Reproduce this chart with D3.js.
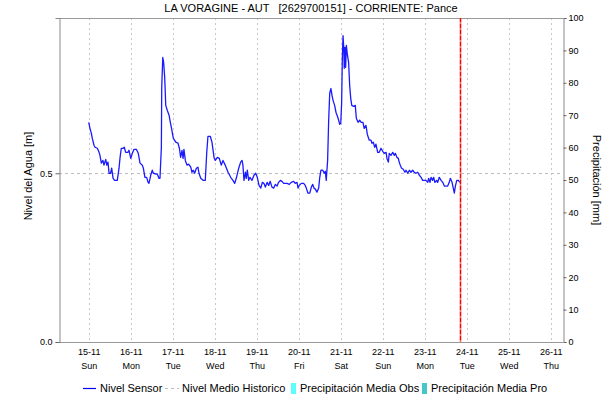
<!DOCTYPE html>
<html>
<head>
<meta charset="utf-8">
<script src="https://cdn.jsdelivr.net/npm/d3@7"></script>
<style>
  html, body { margin: 0; padding: 0; background: #fff; }
  svg { display: block; font-family: "Liberation Sans", Arial, sans-serif; }
</style>
</head>
<body>
<svg id="chart" width="615" height="397"></svg>
<script>
// Station water level readings: [hours since 15-11 00:00, level in metres]
const sensorLevel = [
  [0,.651],[0.7,.633],[1.5,.618],[2.0,.604],[3.0,.583],[3.6,.577],[4.9,.574],[5.9,.562],[6.4,.553],[7.2,.530],
  [8.1,.538],[8.7,.524],[9.7,.541],[10.3,.524],[11.0,.533],[11.6,.500],[12.5,.500],[13.1,.515],[13.9,.485],[14.8,.479],
  [16.3,.479],[17.3,.515],[17.9,.547],[18.6,.574],[19.7,.574],[20.3,.577],[21.1,.562],[22.4,.562],[23.0,.568],[24.0,.544],
  [24.9,.559],[25.9,.571],[27.2,.571],[28.3,.559],[29.3,.530],[30.6,.524],[31.2,.515],[32.1,.488],[33.1,.488],[33.9,.473],
  [34.4,.470],[35.4,.494],[36.3,.509],[36.9,.500],[39.2,.497],[40.1,.485],[40.7,.485],[41.5,.577],[41.7,.754],[42.3,.843],
  [42.8,.828],[43.4,.784],[44.0,.701],[44.9,.686],[45.9,.672],[46.4,.657],[47.2,.636],[48.3,.604],[49.7,.592],[51.0,.589],
  [51.8,.574],[52.5,.547],[53.3,.568],[53.9,.544],[54.4,.571],[55.2,.538],[56.1,.524],[57.1,.527],[58.3,.518],[59.0,.503],
  [59.7,.509],[60.5,.500],[61.5,.515],[62.4,.518],[63.0,.500],[64.0,.485],[65.3,.479],[66.6,.479],[67.4,.559],[68.1,.609],
  [69.5,.609],[70.4,.592],[71.6,.547],[72.3,.538],[73.5,.547],[74.6,.544],[75.7,.524],[76.7,.538],[78.0,.524],[79.6,.503],
  [81.1,.488],[82.4,.479],[83.4,.470],[84.3,.485],[85.7,.515],[86.8,.533],[87.6,.538],[88.1,.524],[88.7,.479],[89.5,.503],
  [90.0,.485],[90.6,.509],[91.4,.479],[92.1,.488],[93.3,.479],[94.4,.494],[95.4,.500],[96.3,.488],[97.3,.464],[98.3,.456],
  [99.2,.473],[100.1,.470],[100.9,.459],[101.9,.473],[102.8,.464],[103.7,.476],[104.7,.459],[105.7,.456],[106.6,.467],[107.6,.462],
  [108.5,.473],[109.5,.479],[110.4,.476],[111.4,.470],[113.3,.470],[114.6,.467],[115.7,.473],[117.1,.476],[118.0,.470],[119.0,.473],
  [119.6,.456],[120.3,.464],[121.5,.470],[122.8,.470],[123.7,.464],[124.3,.456],[125.3,.441],[126.3,.441],[127.2,.459],[128.0,.467],
  [128.7,.456],[129.5,.453],[130.4,.444],[131.4,.456],[132.0,.488],[132.7,.509],[133.7,.509],[134.6,.500],[135.2,.506],[135.7,.479],
  [136.5,.538],[137.1,.657],[137.7,.737],[138.4,.751],[139.0,.731],[139.6,.716],[140.5,.701],[141.3,.680],[142.3,.666],[142.8,.657],
  [143.4,.645],[144.0,.648],[144.5,.707],[144.9,.840],[145.3,.908],[145.7,.873],[146.0,.811],[146.4,.873],[146.8,.814],[147.2,.879],
  [147.7,.855],[148.5,.828],[149.1,.760],[149.7,.722],[150.3,.701],[151.4,.698],[152.3,.701],[152.9,.663],[153.9,.651],[154.8,.657],
  [155.7,.651],[156.7,.651],[157.4,.633],[158.4,.642],[159.2,.615],[160.3,.598],[161.3,.598],[161.8,.589],[162.6,.592],[163.4,.577],
  [164.1,.586],[165.1,.562],[166.0,.562],[167.0,.574],[168.0,.565],[168.9,.559],[169.9,.562],[170.4,.544],[171.2,.533],[171.7,.559],
  [172.7,.553],[173.7,.562],[174.6,.553],[175.2,.559],[176.1,.547],[176.9,.544],[177.4,.533],[178.0,.524],[178.8,.515],[179.7,.512],
  [180.7,.503],[181.3,.509],[182.3,.500],[183.2,.509],[184.1,.503],[185.1,.509],[186.0,.503],[187.0,.500],[188.0,.503],[188.9,.494],
  [189.9,.488],[190.8,.479],[191.7,.479],[192.7,.479],[193.7,.473],[194.2,.485],[195.0,.473],[195.6,.488],[196.5,.479],[197.1,.488],
  [197.8,.473],[198.8,.479],[199.4,.473],[200.3,.488],[201.3,.479],[202.3,.473],[203.2,.462],[204.1,.462],[205.1,.462],[206.0,.473],
  [206.6,.485],[207.6,.473],[208.3,.456],[208.9,.441],[209.5,.462],[210.3,.479],[211.2,.479],[212.0,.473]
];

const historicMean = 0.5;          // Nivel Medio Historico [m]
const currentHour = 212;           // present time marker (hours since 15-11 00:00)

const dayLabels = ["15-11","16-11","17-11","18-11","19-11","20-11","21-11","22-11","23-11","24-11","25-11","26-11"];
const dayNames  = ["Sun","Mon","Tue","Wed","Thu","Fri","Sat","Sun","Mon","Tue","Wed","Thu"];
const levelTicks = [0, 0.5];
const rainTicks = [0, 10, 20, 30, 40, 50, 60, 70, 80, 90, 100];

const legendItems = [
  { label: "Nivel Sensor", kind: "line", color: "#0000ff" },
  { label: "Nivel Medio Historico", kind: "dash", color: "#bdbdbd" },
  { label: "Precipitación Media Obs", kind: "box", color: "#5cfdfd" },
  { label: "Precipitación Media Pro", kind: "box", color: "#46c6c6" }
];

const titleText = "LA VORAGINE - AUT   [2629700151] - CORRIENTE: Pance";

// ---- layout ----
const start = new Date(2020, 10, 15, 0, 0);
const hourMs = 3600 * 1000;
const toDate = h => new Date(start.getTime() + h * hourMs);

const plot = { left: 59, right: 563, top: 18, bottom: 342 };

const x = d3.scaleTime()
  .domain([toDate(-17), toDate(12 * 24 - 17)])
  .range([plot.left, plot.right]);
const yLevel = d3.scaleLinear().domain([0, 0.96]).range([plot.bottom, plot.top]);
const yRain = d3.scaleLinear().domain([0, 100]).range([plot.bottom, plot.top]);

const svg = d3.select("#chart");
svg.append("rect").attr("width", 615).attr("height", 397).attr("fill", "#fff");

const dayDates = dayLabels.map((_, i) => toDate(i * 24));

// vertical day gridlines
svg.append("g").selectAll("line").data(dayDates).join("line")
  .attr("x1", d => Math.round(x(d)) + 0.5).attr("x2", d => Math.round(x(d)) + 0.5)
  .attr("y1", plot.top).attr("y2", plot.bottom)
  .attr("stroke", "#c8c8c8").attr("stroke-dasharray", "2,3");

// historic mean level
svg.append("line")
  .attr("x1", plot.left).attr("x2", plot.right)
  .attr("y1", Math.round(yLevel(historicMean)) + 0.5).attr("y2", Math.round(yLevel(historicMean)) + 0.5)
  .attr("stroke", "#bdbdbd").attr("stroke-dasharray", "3,3");

// top frame
svg.append("line")
  .attr("x1", plot.left).attr("x2", plot.right)
  .attr("y1", plot.top + 0.5).attr("y2", plot.top + 0.5)
  .attr("stroke", "#9a9a9a");

// bottom (time) axis
const xAxis = d3.axisBottom(x)
  .tickValues(dayDates)
  .tickSize(0)
  .tickPadding(7)
  .tickFormat((d, i) => dayLabels[i]);
const gx = svg.append("g").attr("transform", `translate(0,${plot.bottom})`).call(xAxis);
gx.select(".domain").attr("stroke", "#333").attr("stroke-dasharray", "1,1");
gx.selectAll(".tick text").attr("font-size", 9).attr("fill", "#000")
  .attr("font-family", "'Liberation Sans', Arial, sans-serif");
gx.selectAll(".tick").append("text")
  .attr("y", 21).attr("dy", "0.71em").attr("text-anchor", "middle")
  .attr("font-size", 9).attr("fill", "#000")
  .text((d, i) => dayNames[i]);

// left (level) axis
const yAxisL = d3.axisLeft(yLevel).tickValues(levelTicks).tickSize(4).tickPadding(3)
  .tickFormat(d3.format(".1f"));
const gl = svg.append("g").attr("transform", `translate(${plot.left + 0.5},0)`).call(yAxisL);
gl.select(".domain").attr("stroke", "#888");
gl.selectAll(".tick line").attr("stroke", "#666");
gl.selectAll(".tick text").attr("font-size", 9).attr("fill", "#000")
  .attr("font-family", "'Liberation Sans', Arial, sans-serif");

// right (rain) axis
const yAxisR = d3.axisRight(yRain).tickValues(rainTicks).tickSize(3).tickPadding(2)
  .tickFormat(d3.format("d"));
const gr = svg.append("g").attr("transform", `translate(${plot.right + 0.5},0)`).call(yAxisR);
gr.select(".domain").attr("stroke", "#888");
gr.selectAll(".tick line").attr("stroke", "#666");
gr.selectAll(".tick text").attr("font-size", 9).attr("fill", "#000")
  .attr("font-family", "'Liberation Sans', Arial, sans-serif");

// axis titles
svg.append("text")
  .attr("transform", `translate(32,176) rotate(-90)`)
  .attr("text-anchor", "middle").attr("font-size", 11).attr("fill", "#000")
  .text("Nivel del Agua [m]");
svg.append("text")
  .attr("transform", `translate(593,${(plot.top + plot.bottom) / 2}) rotate(90)`)
  .attr("text-anchor", "middle").attr("font-size", 11).attr("fill", "#000")
  .text("Precipitación [mm]");

// title
svg.append("text")
  .attr("x", (plot.left + plot.right) / 2).attr("y", 12)
  .attr("text-anchor", "middle").attr("font-size", 11).attr("fill", "#000")
  .attr("xml:space", "preserve").style("white-space", "pre")
  .text(titleText);

// sensor level line
const line = d3.line()
  .x(d => x(toDate(d[0])))
  .y(d => yLevel(d[1]));
svg.append("path").datum(sensorLevel)
  .attr("d", line)
  .attr("fill", "none").attr("stroke", "#1a1aff").attr("stroke-width", 1.3)
  .attr("stroke-linejoin", "round");

// current time marker
const nowX = Math.round(x(toDate(currentHour))) + 0.5;
svg.append("line")
  .attr("x1", nowX).attr("x2", nowX).attr("y1", plot.top).attr("y2", plot.bottom)
  .attr("stroke", "#ff6a6a").attr("stroke-width", 1.6);
svg.append("line")
  .attr("x1", nowX).attr("x2", nowX).attr("y1", plot.top).attr("y2", plot.bottom)
  .attr("stroke", "#ff0000").attr("stroke-width", 1.2).attr("stroke-dasharray", "4,2");

// legend
const legend = svg.append("g").attr("font-size", 11);
const legendX = [83, 165, 291, 422];
legendItems.forEach((item, i) => {
  const g = legend.append("g").attr("transform", `translate(${legendX[i]},388)`);
  if (item.kind === "line") {
    g.append("line").attr("x1", 0).attr("x2", 13).attr("y1", 0.5).attr("y2", 0.5)
      .attr("stroke", item.color).attr("stroke-width", 1.2);
  } else if (item.kind === "dash") {
    g.append("line").attr("x1", 0).attr("x2", 14).attr("y1", 0.5).attr("y2", 0.5)
      .attr("stroke", item.color).attr("stroke-dasharray", "3,3");
  } else {
    g.append("rect").attr("x", 0).attr("y", -5).attr("width", 5).attr("height", 11)
      .attr("fill", item.color);
  }
  g.append("text").attr("x", item.kind === "box" ? 9 : 17).attr("y", 4)
    .attr("fill", "#000").text(item.label);
});
</script>
</body>
</html>
